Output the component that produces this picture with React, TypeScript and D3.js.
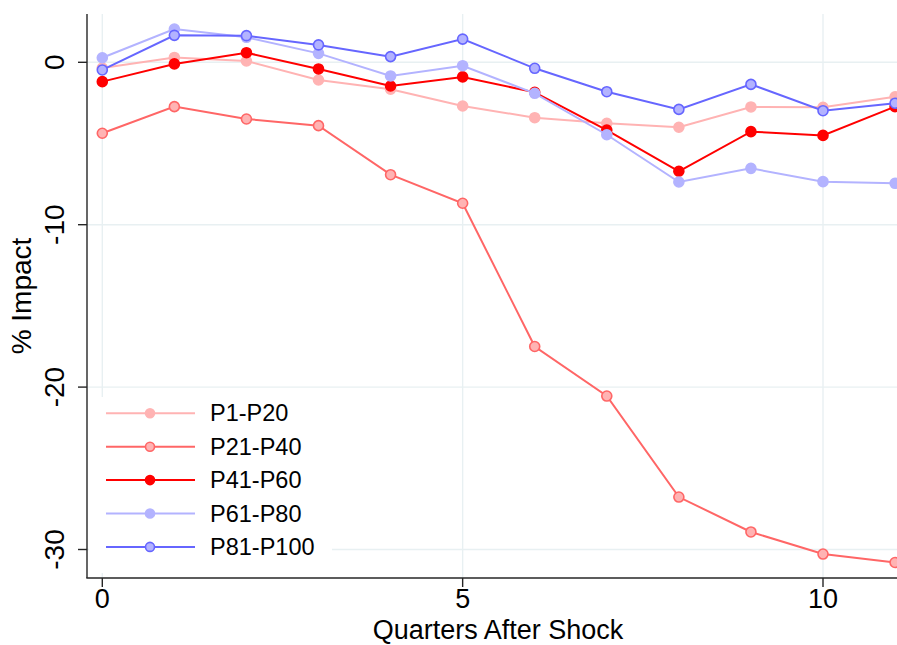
import React, { useEffect } from "react";
import * as d3 from "d3";

const quarters = [0, 1, 2, 3, 4, 5, 6, 7, 8, 9, 10, 11];
const xTicks = [0, 5, 10];
const yTicks = [0, -10, -20, -30];

const seriesNames = ["P1-P20", "P21-P40", "P41-P60", "P61-P80", "P81-P100"];

const p1to20 = [-0.35, 0.3, 0.08, -1.09, -1.66, -2.69, -3.41, -3.76, -4.0, -2.75, -2.77, -2.12];
const p21to40 = [-4.37, -2.73, -3.49, -3.9, -6.92, -8.68, -17.5, -20.55, -26.77, -28.92, -30.28, -30.8];
const p41to60 = [-1.19, -0.1, 0.59, -0.41, -1.46, -0.9, -1.85, -4.17, -6.71, -4.27, -4.5, -2.73];
const p61to80 = [0.28, 2.05, 1.54, 0.55, -0.84, -0.21, -1.91, -4.46, -7.37, -6.53, -7.35, -7.45];
const p81to100 = [-0.47, 1.66, 1.64, 1.07, 0.35, 1.43, -0.37, -1.81, -2.9, -1.36, -2.98, -2.52];

const seriesValues = [p1to20, p21to40, p41to60, p61to80, p81to100];

const styles = [
  { line: "#ffb3b3", fill: "#ffb3b3", stroke: "#ffb3b3" },
  { line: "#ff6666", fill: "#ffb3b3", stroke: "#ff6666" },
  { line: "#ff0000", fill: "#ff0000", stroke: "#ff0000" },
  { line: "#b3b3ff", fill: "#b3b3ff", stroke: "#b3b3ff" },
  { line: "#6666ff", fill: "#b3b3ff", stroke: "#6666ff" },
];

const W = 897;
const H = 645;
const plot = { left: 87, top: 14, right: 897, bottom: 578 };
const FONT = "Arial, 'Liberation Sans', Helvetica, sans-serif";
const GRID = "#e8f0f2";
const AXIS = "#262626";

export default function App() {
  useEffect(() => {
    document.body.style.margin = "0";
  }, []);

  const x = d3.scaleLinear().domain([0, 10]).range([102.3, 823]);
  const y = d3.scaleLinear().domain([0, -30]).range([62.3, 549.5]);

  const line = d3
    .line<number>()
    .x((_, i) => x(quarters[i]))
    .y((d) => y(d));

  const legendRowY = (i: number) => 413.3 + i * 33.4;

  return (
    <svg
      width={W}
      height={H}
      style={{ position: "absolute", left: 0, top: 0, background: "#fff" }}
      fontFamily={FONT}
    >
      <rect x={0} y={0} width={W} height={H} fill="#fff" />
      <defs>
        <clipPath id="plotArea">
          <rect x={plot.left} y={0} width={W - plot.left} height={plot.bottom} />
        </clipPath>
      </defs>

      {/* grid */}
      {yTicks.map((t) => (
        <line
          key={"gy" + t}
          x1={plot.left}
          x2={plot.right}
          y1={y(t)}
          y2={y(t)}
          stroke={GRID}
          strokeWidth={1.4}
        />
      ))}
      {xTicks.map((t) => (
        <line
          key={"gx" + t}
          x1={x(t)}
          x2={x(t)}
          y1={plot.top}
          y2={plot.bottom}
          stroke={GRID}
          strokeWidth={1.4}
        />
      ))}

      {/* legend background */}
      <rect x={89} y={397} width={243} height={176} fill="#fff" />

      {/* series */}
      <g clipPath="url(#plotArea)">
        {seriesValues.map((vals, s) => (
          <g key={seriesNames[s]}>
            <path d={line(vals) || ""} fill="none" stroke={styles[s].line} strokeWidth={2} />
            {vals.map((v, i) => (
              <circle
                key={i}
                cx={x(quarters[i])}
                cy={y(v)}
                r={5}
                fill={styles[s].fill}
                stroke={styles[s].stroke}
                strokeWidth={1.6}
              />
            ))}
          </g>
        ))}
      </g>

      {/* legend */}
      {seriesNames.map((name, i) => (
        <g key={"lg" + name}>
          <line
            x1={106}
            x2={195}
            y1={legendRowY(i)}
            y2={legendRowY(i)}
            stroke={styles[i].line}
            strokeWidth={2}
          />
          <circle
            cx={150}
            cy={legendRowY(i)}
            r={4.5}
            fill={styles[i].fill}
            stroke={styles[i].stroke}
            strokeWidth={1.6}
          />
          <text x={210} y={legendRowY(i) + 8} fontSize={23.5} fill="#000">
            {name}
          </text>
        </g>
      ))}

      {/* axes */}
      <line x1={plot.left} x2={plot.left} y1={plot.top} y2={plot.bottom} stroke={AXIS} strokeWidth={1.4} />
      <line x1={plot.left - 0.7} x2={plot.right} y1={plot.bottom} y2={plot.bottom} stroke={AXIS} strokeWidth={1.4} />

      {yTicks.map((t) => (
        <g key={"ty" + t}>
          <line x1={plot.left - 9} x2={plot.left} y1={y(t)} y2={y(t)} stroke={AXIS} strokeWidth={1.4} />
          <text
            transform={`translate(64,${y(t)}) rotate(-90)`}
            textAnchor="middle"
            fontSize={28}
            fill="#000"
          >
            {t}
          </text>
        </g>
      ))}
      {xTicks.map((t) => (
        <g key={"tx" + t}>
          <line x1={x(t)} x2={x(t)} y1={plot.bottom} y2={plot.bottom + 9} stroke={AXIS} strokeWidth={1.4} />
          <text x={x(t)} y={608} textAnchor="middle" fontSize={27} fill="#000">
            {t}
          </text>
        </g>
      ))}

      <text x={498} y={639} textAnchor="middle" fontSize={27} fill="#000">
        Quarters After Shock
      </text>
      <text
        transform={`translate(31,${(plot.top + plot.bottom) / 2}) rotate(-90)`}
        textAnchor="middle"
        fontSize={28}
        fill="#000"
      >
        % Impact
      </text>
    </svg>
  );
}
